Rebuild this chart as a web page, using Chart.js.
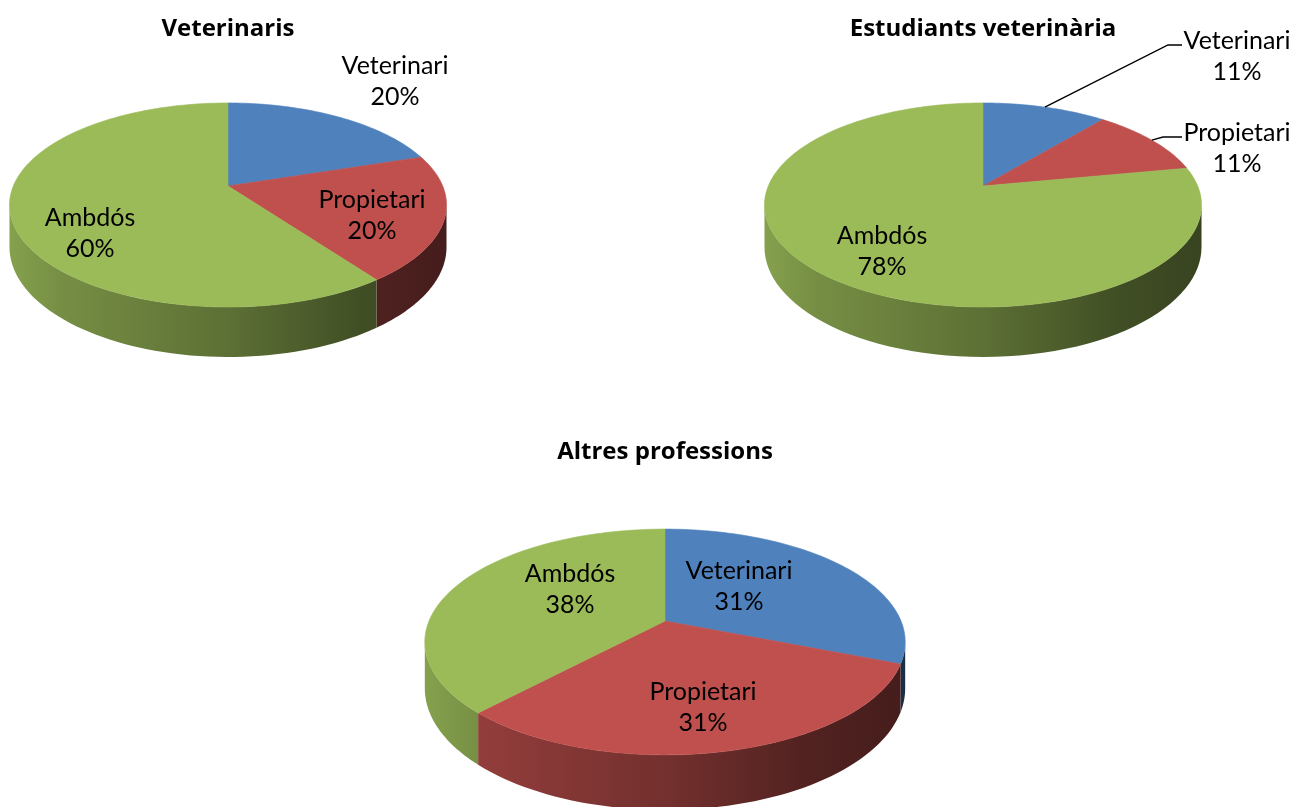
<!DOCTYPE html>
<html>
<head>
<meta charset="utf-8">
<script src="https://cdn.jsdelivr.net/npm/chart.js@4.4.0/dist/chart.umd.min.js"></script>
<style>
  body { margin: 0; background: #fff; width: 1296px; height: 807px; overflow: hidden; position: relative; }
  .box { position: absolute; }
</style>
</head>
<body>
<div class="box" style="left:0;top:0;width:456px;height:400px"><canvas id="chartVet"></canvas></div>
<div class="box" style="left:670px;top:0;width:626px;height:400px"><canvas id="chartEst"></canvas></div>
<div class="box" style="left:380px;top:420px;width:570px;height:387px"><canvas id="chartAltres"></canvas></div>
<script>
// chart data
const categories = ["Veterinari", "Propietari", "Ambdós"];
const veterinarisValues = [20, 20, 60];
const estudiantsValues = [11, 11, 78];
const altresValues = [31, 31, 38];
const chartTitles = ["Veterinaris", "Estudiants veterinària", "Altres professions"];
const sliceColors = ["#4f81bd", "#c0504d", "#9bbb59"];

const labelFont = "25px Lato";
const titleFont = { family: "Open Sans", size: 24, weight: "bold" };

// darken a hex colour by factor f
function shade(hex, f) {
  const n = parseInt(hex.slice(1), 16);
  const r = Math.round(((n >> 16) & 255) * f);
  const g = Math.round(((n >> 8) & 255) * f);
  const b = Math.round((n & 255) * f);
  return `rgb(${r},${g},${b})`;
}

// Plugin that draws the pie as a tilted 3D disc (perspective like Excel)
const pie3d = {
  id: "pie3d",
  beforeDatasetsDraw(chart, args, opts) {
    const ctx = chart.ctx;
    const meta = chart.getDatasetMeta(0);
    const colors = chart.data.datasets[0].backgroundColor;
    const { cx, cy, a, b, k, depth } = opts;

    const proj = (t, r, drop) => {
      const u = Math.cos(t) * r, v = Math.sin(t) * r;
      const d = 1 - k * v;
      return [cx + (a * u) / d, cy + (b * v + drop) / d];
    };

    // side wall (only the front part is visible)
    const lo = Math.asin(k), hi = Math.PI - Math.asin(k);
    meta.data.forEach((arc, i) => {
      const s = Math.max(arc.startAngle, lo);
      const e = Math.min(arc.endAngle, hi);
      if (e <= s) return;
      const grad = ctx.createLinearGradient(cx - a * 1.02, 0, cx + a * 1.02, 0);
      grad.addColorStop(0, shade(colors[i], 0.86));
      grad.addColorStop(0.12, shade(colors[i], 0.76));
      grad.addColorStop(0.5, shade(colors[i], 0.6));
      grad.addColorStop(0.8, shade(colors[i], 0.42));
      grad.addColorStop(1, shade(colors[i], 0.36));
      ctx.beginPath();
      const steps = 60;
      for (let j = 0; j <= steps; j++) {
        const p = proj(s + ((e - s) * j) / steps, 1, 0);
        j === 0 ? ctx.moveTo(p[0], p[1]) : ctx.lineTo(p[0], p[1]);
      }
      for (let j = steps; j >= 0; j--) {
        const p = proj(s + ((e - s) * j) / steps, 1, depth);
        ctx.lineTo(p[0], p[1]);
      }
      ctx.closePath();
      ctx.fillStyle = grad;
      ctx.fill();
    });

    // top faces
    meta.data.forEach((arc, i) => {
      const s = arc.startAngle, e = arc.endAngle;
      const c = proj(0, 0, 0);
      ctx.beginPath();
      ctx.moveTo(c[0], c[1]);
      const steps = Math.max(8, Math.ceil((e - s) * 40));
      for (let j = 0; j <= steps; j++) {
        const p = proj(s + ((e - s) * j) / steps, 1, 0);
        ctx.lineTo(p[0], p[1]);
      }
      ctx.closePath();
      ctx.fillStyle = colors[i];
      ctx.strokeStyle = colors[i];
      ctx.lineWidth = 0.6;
      ctx.fill();
      ctx.stroke();
    });
    return false; // skip the flat default arcs
  },
  // labels go here: afterDatasetsDraw is skipped once the datasets draw is cancelled
  afterDraw(chart, args, opts) {
    const ctx = chart.ctx;
    const meta = chart.getDatasetMeta(0);
    const values = chart.data.datasets[0].data;
    const total = values.reduce((s, v) => s + v, 0);
    const { cx, cy, a, b, k } = opts;
    ctx.save();
    ctx.font = labelFont;
    ctx.fillStyle = "#000";
    ctx.textAlign = "center";
    ctx.textBaseline = "middle";
    opts.labels.forEach((lab, i) => {
      const pct = Math.round((values[i] / total) * 100) + "%";
      ctx.fillText(chart.data.labels[i], lab.x, lab.y);
      ctx.fillText(pct, lab.x, lab.y + 31);
      if (lab.leader) {
        const arc = meta.data[i];
        const t = (arc.startAngle + arc.endAngle) / 2;
        const u = Math.cos(t), v = Math.sin(t), d = 1 - k * v;
        ctx.beginPath();
        ctx.moveTo(cx + (a * u) / d, cy + (b * v) / d);
        ctx.lineTo(lab.leader[0], lab.leader[1]);
        ctx.lineTo(lab.leader[2], lab.leader[1]);
        ctx.strokeStyle = "#000";
        ctx.lineWidth = 1.4;
        ctx.stroke();
      }
    });
    ctx.restore();
  }
};

function makePie(canvasId, title, values, geom, titleTop) {
  return new Chart(document.getElementById(canvasId), {
    type: "pie",
    data: {
      labels: categories,
      datasets: [{ data: values, backgroundColor: sliceColors, borderWidth: 0 }]
    },
    options: {
      responsive: true,
      maintainAspectRatio: false,
      animation: false,
      events: [],
      plugins: {
        legend: { display: false },
        tooltip: { enabled: false },
        title: {
          display: true,
          text: title,
          color: "#000",
          font: titleFont,
          padding: { top: titleTop, bottom: 0 }
        },
        pie3d: geom
      }
    },
    plugins: [pie3d]
  });
}

makePie("chartVet", chartTitles[0], veterinarisValues, {
  cx: 228, cy: 186, a: 214.7, b: 98.5, k: 0.186, depth: 40.7,
  labels: [
    { x: 395, y: 66 },
    { x: 372, y: 200 },
    { x: 90, y: 218 }
  ]
}, 15);

makePie("chartEst", chartTitles[1], estudiantsValues, {
  cx: 313, cy: 186, a: 214.7, b: 98.5, k: 0.186, depth: 40.7,
  labels: [
    { x: 567, y: 41, leader: [498, 45, 512] },
    { x: 567, y: 133, leader: [493, 137, 512] },
    { x: 212, y: 236 }
  ]
}, 15);

makePie("chartAltres", chartTitles[2], altresValues, {
  cx: 285, cy: 201, a: 236, b: 109, k: 0.186, depth: 44.8,
  labels: [
    { x: 359, y: 151 },
    { x: 323, y: 272 },
    { x: 190, y: 154 }
  ]
}, 18);
</script>
</body>
</html>
